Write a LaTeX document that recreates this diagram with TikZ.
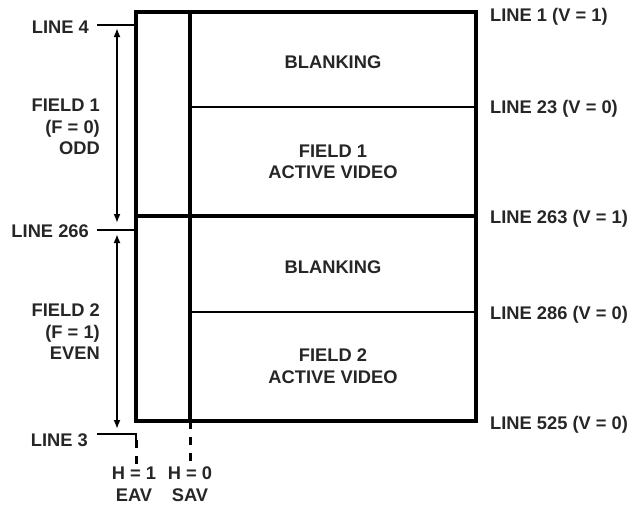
\documentclass[tikz,border=0pt]{standalone}
\usepackage{fontspec}
\setmainfont{Liberation Sans}
\usetikzlibrary{arrows.meta}
\begin{document}
\begin{tikzpicture}[x=1pt,y=-1pt,
  txt/.style={font=\fontsize{18.3}{21.5}\selectfont\bfseries, text=black!85, inner sep=0pt},
  frame/.style={line width=3.2pt},
  innerline/.style={line width=3.8pt},
  divider/.style={line width=2pt},
  tickline/.style={line width=2pt},
  dashline/.style={line width=3pt, dash pattern=on 8pt off 8pt},
  dimarrow/.style={line width=2.6pt, {Latex[length=9pt,width=7pt]}-{Latex[length=9pt,width=7pt]}}]
\useasboundingbox (0,0) rectangle (632,506);
% frame coordinates
\coordinate (TL) at (136,12);
\coordinate (TR) at (476,12);
\coordinate (BL) at (136,421);
\coordinate (BR) at (476,421);
\coordinate (IT) at (190,12);
\coordinate (IB) at (190,421);
\coordinate (MidL) at (136,216);
\coordinate (MidR) at (476,216);
\coordinate (B1L) at (190,107);
\coordinate (B1R) at (476,107);
\coordinate (B2L) at (190,312);
\coordinate (B2R) at (476,312);
% tick coordinates
\coordinate (L4a) at (97,25);
\coordinate (L4b) at (136,25);
\coordinate (L266a) at (97,230);
\coordinate (L266b) at (136,230);
\coordinate (L3a) at (97,434);
\coordinate (L3b) at (136,434);
\coordinate (L3c) at (136,440);
\coordinate (EAVend) at (136,464);
\coordinate (SAVend) at (190,464);
% arrow coordinates
\coordinate (A1t) at (117,28);
\coordinate (A1b) at (117,223);
\coordinate (A2t) at (117,234);
\coordinate (A2b) at (117,429);

% frame
\draw[frame] (TL) rectangle (BR);
\draw[innerline] (IT) -- (IB);
\draw[frame] (MidL) -- (MidR);
\draw[divider] (B1L) -- (B1R);
\draw[divider] (B2L) -- (B2R);
% ticks
\draw[tickline] (L4a) -- (L4b);
\draw[tickline] (L266a) -- (L266b);
\draw[tickline] (L3a) -- (L3b) -- (L3c);
\draw[dashline] (L3c) -- (EAVend);
\draw[dashline] (IB) -- (SAVend);
% arrows
\draw[dimarrow] (A1t) -- (A1b);
\draw[dimarrow] (A2t) -- (A2b);

% center labels
\node[txt] (blank1) at (333,62) {BLANKING};
\node[txt, align=center] (act1) at (333,162) {FIELD 1\\ACTIVE VIDEO};
\node[txt] (blank2) at (333,267) {BLANKING};
\node[txt, align=center] (act2) at (333,366) {FIELD 2\\ACTIVE VIDEO};
% right labels
\node[txt, anchor=west, text height=13pt, text depth=0pt] (r1) at (490,15) {LINE 1 (V = 1)};
\node[txt, anchor=west, text height=13pt, text depth=0pt] (r23) at (490,107) {LINE 23 (V = 0)};
\node[txt, anchor=west, text height=13pt, text depth=0pt] (r263) at (490,217) {LINE 263 (V = 1)};
\node[txt, anchor=west, text height=13pt, text depth=0pt] (r286) at (490,313) {LINE 286 (V = 0)};
\node[txt, anchor=west, text height=13pt, text depth=0pt] (r525) at (490,423) {LINE 525 (V = 0)};
% left labels
\node[txt, anchor=east] (l4) at (89,27) {LINE 4};
\node[txt, anchor=east] (l266) at (89,231) {LINE 266};
\node[txt, anchor=east] (l3) at (88,440) {LINE 3};
\node[txt, anchor=east, align=right] (f1) at (100,127) {FIELD 1\\(F = 0)\\ODD};
\node[txt, anchor=east, align=right] (f2) at (100,332) {FIELD 2\\(F = 1)\\EVEN};
% bottom labels
\node[txt, align=center] (eav) at (134,484) {H = 1\\EAV};
\node[txt, align=center] (sav) at (190,484) {H = 0\\SAV};
\end{tikzpicture}
\end{document}
